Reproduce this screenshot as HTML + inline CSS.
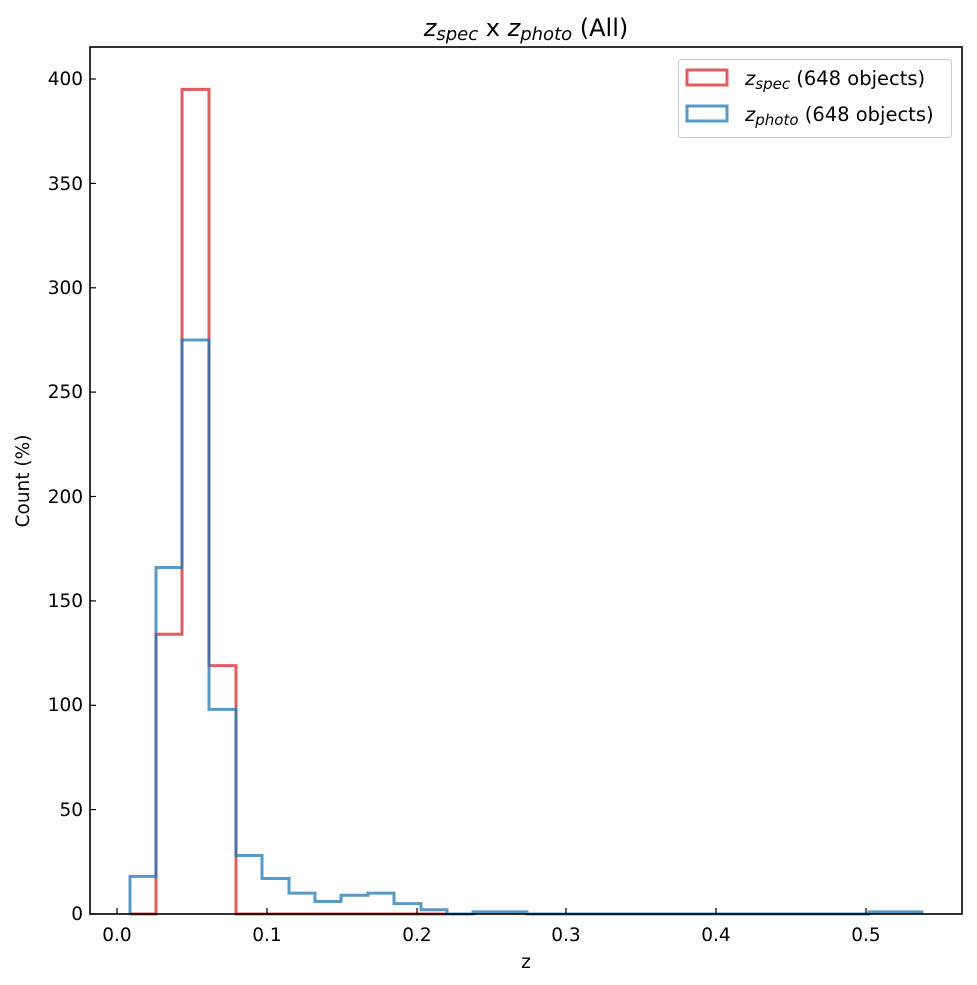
<!DOCTYPE html>
<html><head><meta charset="utf-8"><style>body{margin:0;background:#fff}svg{display:block}text{font-family:"DejaVu Sans","Liberation Sans",sans-serif;fill:#000}</style></head>
<body>
<svg width="977" height="985" xmlns="http://www.w3.org/2000/svg">
<rect width="977" height="985" fill="#fff"/>
<path d="M130,914 H156 V634.3 H182 V89.4 H209 V665.6 H236 V914 H447" fill="none" stroke="#d62728" stroke-opacity="0.75" stroke-width="3"/>
<path d="M130,914 V876.4 H156 V567.5 H182 V340 H209 V709.4 H236 V855.5 H262 V878.5 H289 V893.1 H315 V901.5 H341 V895.2 H368 V893.1 H394 V903.6 H421 V909.8 H447 V914 H473 V911.9 H527 V914 H869 V911.9 H922 V914" fill="none" stroke="#1f77b4" stroke-opacity="0.75" stroke-width="3"/>
<rect x="90" y="47" width="872" height="867" fill="none" stroke="#000" stroke-width="1.6"/>
<g stroke="#000" stroke-width="1.2">
<line x1="117" y1="914" x2="117" y2="908"/><line x1="267" y1="914" x2="267" y2="908"/><line x1="417" y1="914" x2="417" y2="908"/><line x1="566" y1="914" x2="566" y2="908"/><line x1="716" y1="914" x2="716" y2="908"/><line x1="866" y1="914" x2="866" y2="908"/>
<line x1="90" y1="914" x2="96" y2="914"/><line x1="90" y1="809.6" x2="96" y2="809.6"/><line x1="90" y1="705.3" x2="96" y2="705.3"/><line x1="90" y1="600.9" x2="96" y2="600.9"/><line x1="90" y1="496.5" x2="96" y2="496.5"/><line x1="90" y1="392.1" x2="96" y2="392.1"/><line x1="90" y1="287.8" x2="96" y2="287.8"/><line x1="90" y1="183.4" x2="96" y2="183.4"/><line x1="90" y1="79" x2="96" y2="79"/>
</g>
<g font-size="18.5" text-anchor="middle">
<text x="117" y="941">0.0</text><text x="267" y="941">0.1</text><text x="417" y="941">0.2</text><text x="566" y="941">0.3</text><text x="716" y="941">0.4</text><text x="866" y="941">0.5</text>
<text x="526" y="968">z</text>
</g>
<g font-size="18.5" text-anchor="end">
<text x="83" y="920">0</text><text x="83" y="816">50</text><text x="83" y="711">100</text><text x="83" y="607">150</text><text x="83" y="503">200</text><text x="83" y="398">250</text><text x="83" y="294">300</text><text x="83" y="190">350</text><text x="83" y="85">400</text>
</g>
<text transform="translate(29,481) rotate(-90)" font-size="18.5" text-anchor="middle">Count (%)</text>
<text x="526" y="36" font-size="24" text-anchor="middle"><tspan font-style="italic">z</tspan><tspan font-style="italic" font-size="18" dy="4">spec</tspan><tspan dy="-4"> x </tspan><tspan font-style="italic">z</tspan><tspan font-style="italic" font-size="18" dy="4">photo</tspan><tspan dy="-4"> (All)</tspan></text>
<rect x="678.5" y="59.5" width="273" height="78" rx="3" fill="#fff" stroke="#ccc" stroke-width="1"/>
<rect x="687" y="70" width="40" height="15" fill="none" stroke="#d62728" stroke-opacity="0.75" stroke-width="3"/>
<rect x="687" y="106" width="40" height="15" fill="none" stroke="#1f77b4" stroke-opacity="0.75" stroke-width="3"/>
<text x="745" y="85" font-size="19.5"><tspan font-style="italic">z</tspan><tspan font-style="italic" font-size="15" dy="4">spec</tspan><tspan dy="-4"> (648 objects)</tspan></text>
<text x="745" y="121" font-size="19.5"><tspan font-style="italic">z</tspan><tspan font-style="italic" font-size="15" dy="4">photo</tspan><tspan dy="-4"> (648 objects)</tspan></text>
</svg>
</body></html>
